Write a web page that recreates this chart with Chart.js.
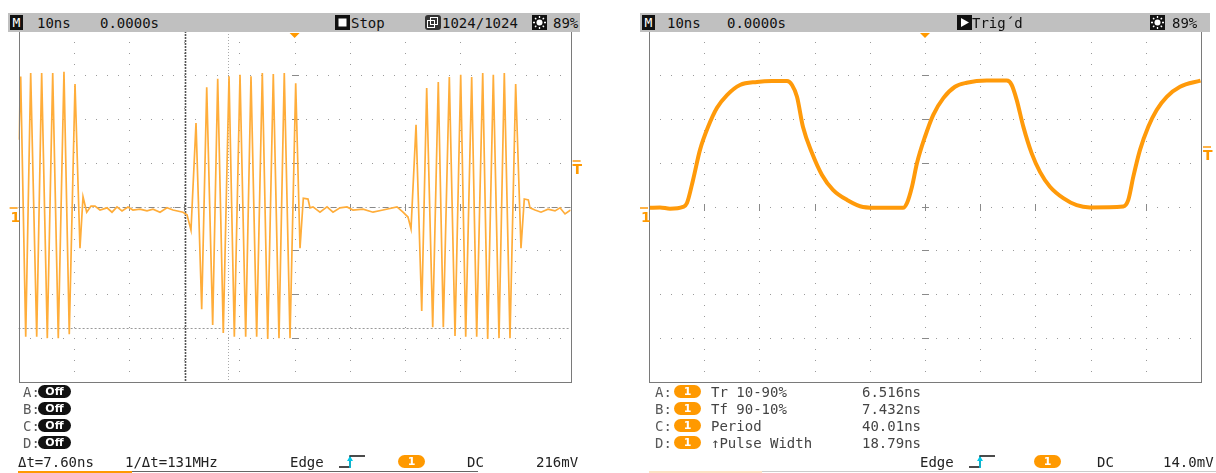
<!DOCTYPE html>
<html>
<head>
<meta charset="utf-8">
<script src="https://cdn.jsdelivr.net/npm/chart.js@4.4.0/dist/chart.umd.min.js"></script>
<style>
body { margin: 0; background: #fff; }
#page { position: relative; width: 1216px; height: 473px; overflow: hidden; font-family: "DejaVu Sans Mono", monospace; font-size: 14px; }
canvas { position: absolute; top: 0; }
.bar { position: absolute; top: 13px; height: 19px; background: #c0c0c0; }
.t { position: absolute; white-space: pre; line-height: 16px; color: #222; }
.hd { top: 14px; line-height: 18px; color: #111; }
.row { color: #5a5a5a; }
.pill { position: absolute; height: 13px; border-radius: 7px; color: #fff; font-family: "DejaVu Sans", sans-serif; font-weight: bold; font-size: 11px; line-height: 13px; text-align: center; }
.box { position: absolute; background: #111; color: #fff; }
.line { position: absolute; height: 1px; }
</style>
</head>
<body>
<div id="page">
  <canvas id="leftScope" width="600" height="473" style="left:0"></canvas>
  <canvas id="rightScope" width="596" height="473" style="left:620px"></canvas>
</div>
<script>
// ---- left screen: burst signal (time in ns, level in divisions)
const leftTimeNs = [
  -49.96, -49.62, -48.71, -47.81, -46.72, -45.82, -44.80, -43.82, -42.81, -41.78, -40.82, -39.78, -38.88, -38.33, -37.66, -36.88,
  -36.16, -35.25, -33.98, -33.08, -32.17, -31.27, -30.18, -29.28, -28.01, -26.74, -25.65, -24.38, -23.12, -22.03, -20.22, -19.49, -18.77,
  -17.86, -16.83, -15.92, -14.84, -13.93, -12.92, -11.88, -10.92, -9.89, -8.86, -7.90, -6.87, -5.85, -4.87, -3.86, -2.83, -1.87, -0.83, 0.20, 0.98, 1.58, 2.43, 2.79,
  3.33, 4.60, 5.87, 6.96, 8.22, 9.49, 10.58, 12.39, 14.20, 16.01, 18.55, 19.64, 20.54, 21.09,
  22.00, 23.03, 23.93, 25.02, 26.03, 26.94, 28.03, 29.06, 30.09, 31.00, 32.08, 32.99, 34.08, 34.98, 36.00, 37.03, 37.99, 39.02, 40.05, 41.01, 41.61, 42.34, 42.65,
  43.55, 44.64, 45.91, 47.17, 48.08, 48.99, 50.00
];
const leftLevelDiv = [
  1.52, 2.96, -2.97, 3.04, -2.97, 3.04, -3.00, 3.04, -3.00, 3.07, -2.91, 2.79, -0.95, 0.22, -0.13, 0.01,
  0.01, -0.08, -0.03, -0.13, -0.01, -0.10, -0.01, -0.08, -0.06, -0.10, -0.06, -0.13, -0.03, -0.08, -0.13, -0.19, -0.54,
  1.90, -2.34, 2.72, -2.70, 2.91, -2.88, 2.97, -2.97, 3.00, -2.97, 2.97, -2.97, 3.04, -3.02, 3.02, -3.00, 3.04, -3.00, 2.81, -0.95, 0.19, 0.17, -0.03,
  -0.01, -0.13, -0.01, -0.13, -0.03, -0.01, -0.08, -0.06, -0.13, -0.08, -0.01, -0.13, -0.24, -0.51,
  1.86, -2.38, 2.70, -2.75, 2.84, -2.75, 2.95, -2.95, 3.00, -2.97, 2.95, -2.97, 3.04, -3.02, 3.00, -3.00, 3.04, -3.00, 2.79, -0.95, 0.17, 0.15, -0.03,
  -0.08, -0.13, -0.06, -0.10, -0.03, -0.17, -0.08
];
const leftCursorTimesNs = [-19.86, -12.0];
const leftCursorLevelsDiv = [-2.76];
const leftTrigLevelDiv = 1.06;

// ---- right screen: pulse train
const rightTimeNs = [
  -49.91, -48.01, -46.20, -43.84, -43.12, -42.03, -40.76, -39.31, -37.68, -35.87, -33.51, -30.43, -27.72, -25.00, -24.09, -23.19, -22.10,
  -20.47, -18.66, -16.67, -14.13, -11.23, -8.15, -3.99, -3.26, -2.36, -1.45, 0.00, 1.50, 3.32, 5.43, 7.55, 11.18, 14.80, 15.71, 16.61,
  17.81, 19.33, 20.83, 22.64, 25.05, 27.48, 29.89, 35.93, 36.83, 37.74, 38.95, 40.45, 41.97, 43.79, 46.20, 49.91
];
const rightLevelDiv = [
  -0.03, -0.02, -0.05, -0.01, 0.08, 0.60, 1.29, 1.81, 2.25, 2.54, 2.77, 2.84, 2.86, 2.86, 2.77, 2.50, 1.81,
  1.22, 0.72, 0.38, 0.15, -0.01, -0.03, -0.03, 0.08, 0.45, 0.99, 1.59, 2.09, 2.47, 2.73, 2.82, 2.87, 2.87, 2.77, 2.43,
  1.82, 1.21, 0.79, 0.45, 0.19, 0.03, -0.02, 0.00, 0.15, 0.68, 1.29, 1.82, 2.20, 2.50, 2.73, 2.87
];
const rightTrigLevelDiv = 1.38;

// ---- texts
const leftHeader = ['10ns', '0.0000s', 'Stop', '1024/1024', '89%'];
const rightHeader = ['10ns', '0.0000s', 'Trig\u00b4d', '89%'];
const rowNames = ['A:', 'B:', 'C:', 'D:'];
const measNames = ['Tr 10-90%', 'Tf 90-10%', 'Period', '\u2191Pulse Width'];
const measValues = ['6.516ns', '7.432ns', '40.01ns', '18.79ns'];
const leftStatus = ['\u0394t=7.60ns', '1/\u0394t=131MHz', 'Edge', 'DC', '216mV'];
const rightStatus = ['Edge', 'DC', '14.0mV'];

const ORANGE = '#ff9900';

const scopeGrid = {
  id: 'scopeGrid',
  beforeDatasetsDraw(chart, args, opts) {
    const { ctx, chartArea: a, scales: { x, y } } = chart;
    ctx.save();
    ctx.fillStyle = '#9a9a9a';
    for (let t = -40; t <= 40; t += 10) {
      const px = Math.round(x.getPixelForValue(t));
      for (let v = -4; v <= 4; v += 0.25) ctx.fillRect(px, Math.round(y.getPixelForValue(v)), 1, 1);
    }
    for (let v = -3; v <= 3; v++) {
      const py = Math.round(y.getPixelForValue(v));
      for (let t = -50; t <= 50; t += 2) ctx.fillRect(Math.round(x.getPixelForValue(t)), py, 1, 1);
    }
    // ticks on the centre axes
    ctx.fillStyle = '#8a8a8a';
    const cx = Math.round(x.getPixelForValue(0)), cy = Math.round(y.getPixelForValue(0));
    for (let v = -3; v <= 3; v++) ctx.fillRect(cx - 3, Math.round(y.getPixelForValue(v)), 7, 1);
    for (let t = -40; t <= 40; t += 10) ctx.fillRect(Math.round(x.getPixelForValue(t)), cy - 3, 1, 7);

    // cursors
    (opts.cursorsT || []).forEach((t, i) => {
      const px = Math.round(x.getPixelForValue(t)) + 0.5;
      ctx.strokeStyle = i === 0 ? '#555' : '#aaa';
      ctx.lineWidth = i === 0 ? 1.6 : 1;
      ctx.setLineDash(i === 0 ? [2, 1] : [1, 2]);
      ctx.beginPath(); ctx.moveTo(px, a.top); ctx.lineTo(px, a.bottom); ctx.stroke();
    });
    (opts.cursorsV || []).forEach(v => {
      const py = Math.round(y.getPixelForValue(v)) + 0.5;
      ctx.strokeStyle = '#999'; ctx.lineWidth = 1; ctx.setLineDash([2, 2]);
      ctx.beginPath(); ctx.moveTo(a.left, py); ctx.lineTo(a.right, py); ctx.stroke();
    });
    if (opts.dashCenter) {
      ctx.strokeStyle = '#888'; ctx.lineWidth = 1; ctx.setLineDash([6, 3, 1, 3]);
      ctx.beginPath(); ctx.moveTo(a.left, cy + 0.5); ctx.lineTo(a.right, cy + 0.5); ctx.stroke();
    }
    ctx.setLineDash([]);
    ctx.restore();
  },
  afterDraw(chart, args, opts) {
    const { ctx, chartArea: a, scales: { x, y } } = chart;
    ctx.save();
    ctx.strokeStyle = '#7a7a7a'; ctx.lineWidth = 1;
    ctx.strokeRect(Math.round(a.left) + 0.5, Math.round(a.top) + 0.5, Math.round(a.right - a.left), Math.round(a.bottom - a.top));
    // trigger position marker
    const tx = x.getPixelForValue(0);
    ctx.fillStyle = ORANGE;
    ctx.beginPath(); ctx.moveTo(tx - 5, a.top + 2); ctx.lineTo(tx + 5, a.top + 2); ctx.lineTo(tx, a.top + 7); ctx.closePath(); ctx.fill();
    // channel 1 ground marker
    const gy = Math.round(y.getPixelForValue(0));
    ctx.fillStyle = '#ffb347';
    ctx.fillRect(a.left - 9, gy, 8, 2);
    ctx.fillStyle = ORANGE;
    ctx.font = 'bold 14px "DejaVu Sans"';
    ctx.textBaseline = 'top';
    ctx.fillText('1', a.left - 8, gy + 4);
    // trigger level marker
    const ly = Math.round(y.getPixelForValue(opts.trigLevel));
    ctx.fillStyle = '#ffb347';
    ctx.fillRect(a.right + 2, ly, 8, 2);
    ctx.fillStyle = ORANGE;
    ctx.fillText('T', a.right + 2, ly + 3);
    ctx.restore();
  }
};

function scopeChart(id, times, levels, pad, lineOpts, gridOpts) {
  return new Chart(document.getElementById(id), {
    type: 'line',
    data: {
      datasets: [Object.assign({
        data: times.map((t, i) => ({ x: t, y: levels[i] })),
        pointRadius: 0,
        fill: false
      }, lineOpts)]
    },
    options: {
      responsive: false,
      animation: false,
      events: [],
      layout: { padding: pad },
      plugins: { legend: { display: false }, tooltip: { enabled: false }, scopeGrid: gridOpts },
      scales: {
        x: { type: 'linear', min: -50, max: 50, display: false },
        y: { min: -4, max: 4, display: false }
      }
    },
    plugins: [scopeGrid]
  });
}

scopeChart('leftScope', leftTimeNs, leftLevelDiv,
  { left: 18.6, right: 29.4, top: 31, bottom: 91 },
  { borderColor: '#ffad3a', borderWidth: 1.7, tension: 0 },
  { cursorsT: leftCursorTimesNs, cursorsV: leftCursorLevelsDiv, dashCenter: true, trigLevel: leftTrigLevelDiv });

scopeChart('rightScope', rightTimeNs, rightLevelDiv,
  { left: 29, right: 15, top: 31, bottom: 91 },
  { borderColor: '#ff9a0a', borderWidth: 4, cubicInterpolationMode: 'monotone' },
  { trigLevel: rightTrigLevelDiv });

// ---- HTML overlay: header bars and readouts
const page = document.getElementById('page');
function el(cls, x, y, text, style) {
  const d = document.createElement('div');
  d.className = cls;
  d.style.left = x + 'px';
  if (y !== null) d.style.top = y + 'px';
  if (text) d.textContent = text;
  if (style) Object.assign(d.style, style);
  page.appendChild(d);
  return d;
}
function svg(x, y, w, h, inner) {
  const d = el('t', x, y, null, { width: w + 'px', height: h + 'px' });
  d.innerHTML = '<svg width="' + w + '" height="' + h + '" xmlns="http://www.w3.org/2000/svg">' + inner + '</svg>';
}
function mBox(x) {
  el('box', x, 15, 'M', { width: '13px', height: '15px', lineHeight: '15px', textAlign: 'center', fontSize: '13px' });
}
const sun = '<rect width="15" height="15" fill="#111"/><circle cx="7.5" cy="7.5" r="3" fill="#fff"/>' +
  '<g stroke="#fff" stroke-width="1.3"><line x1="7.5" y1="1" x2="7.5" y2="3"/><line x1="7.5" y1="12" x2="7.5" y2="14"/>' +
  '<line x1="1" y1="7.5" x2="3" y2="7.5"/><line x1="12" y1="7.5" x2="14" y2="7.5"/><line x1="3" y1="3" x2="4.3" y2="4.3"/>' +
  '<line x1="10.7" y1="10.7" x2="12" y2="12"/><line x1="12" y1="3" x2="10.7" y2="4.3"/><line x1="3" y1="12" x2="4.3" y2="10.7"/></g>';
const edgeIcon = '<polyline points="1,14 12,14 12,3 27,3" fill="none" stroke="#111" stroke-width="1.4"/>' +
  '<line x1="12" y1="15" x2="12" y2="5" stroke="#00c8e8" stroke-width="1.6"/><polygon points="9,8 15,8 12,3" fill="#00c8e8"/>';

// left header
el('bar', 8, null, null, { width: '572px' });
mBox(10);
el('t hd', 37, null, leftHeader[0]);
el('t hd', 100, null, leftHeader[1]);
svg(335, 15, 15, 15, '<rect width="15" height="15" fill="#111"/><rect x="3.5" y="3.5" width="8" height="8" fill="#fff"/>');
el('t hd', 351, null, leftHeader[2]);
svg(425, 15, 16, 15, '<rect width="16" height="15" rx="3" fill="#333"/><rect x="2.5" y="5.5" width="7" height="7" fill="none" stroke="#fff"/><rect x="5.5" y="2.5" width="7" height="7" fill="none" stroke="#fff"/>');
el('t hd', 442, null, leftHeader[3]);
svg(532, 15, 15, 15, sun);
el('t hd', 553, null, leftHeader[4]);

// right header
el('bar', 640, null, null, { width: '570px' });
mBox(642);
el('t hd', 667, null, rightHeader[0]);
el('t hd', 727, null, rightHeader[1]);
svg(957, 15, 15, 15, '<rect width="15" height="15" fill="#111"/><polygon points="4,3 12,7.5 4,12" fill="#fff"/>');
el('t hd', 972, null, rightHeader[2]);
svg(1150, 15, 15, 15, sun);
el('t hd', 1172, null, rightHeader[3]);

// readout rows
rowNames.forEach((name, i) => {
  const top = 384 + i * 17;
  el('t row', 23, top, name);
  el('pill', 38, top + 1, 'Off', { width: '33px', background: '#111' });
  el('t row', 655, top, name);
  el('pill', 674, top + 1, '1', { width: '27px', background: ORANGE });
  el('t row', 711, top, measNames[i], { color: '#444' });
  el('t row', 862, top, measValues[i], { color: '#444' });
});

// status lines
el('t', 18, 454, leftStatus[0]);
el('t', 125, 454, leftStatus[1]);
el('t', 290, 454, leftStatus[2]);
svg(338, 453, 28, 17, edgeIcon);
el('pill', 398, 455, '1', { width: '27px', background: ORANGE });
el('t', 467, 454, leftStatus[3]);
el('t', 536, 454, leftStatus[4]);

el('t', 920, 454, rightStatus[0]);
svg(968, 453, 28, 17, edgeIcon);
el('pill', 1034, 455, '1', { width: '27px', background: ORANGE });
el('t', 1097, 454, rightStatus[1]);
el('t', 1163, 454, rightStatus[2]);

// bottom rule
el('line', 18, 471, null, { width: '114px', height: '2px', background: ORANGE });
el('line', 132, 471, null, { width: '346px', background: '#666' });
el('line', 649, 471, null, { width: '113px', height: '2px', background: '#fde2c4' });
el('line', 762, 471, null, { width: '454px', background: '#ccc' });
</script>
</body>
</html>
